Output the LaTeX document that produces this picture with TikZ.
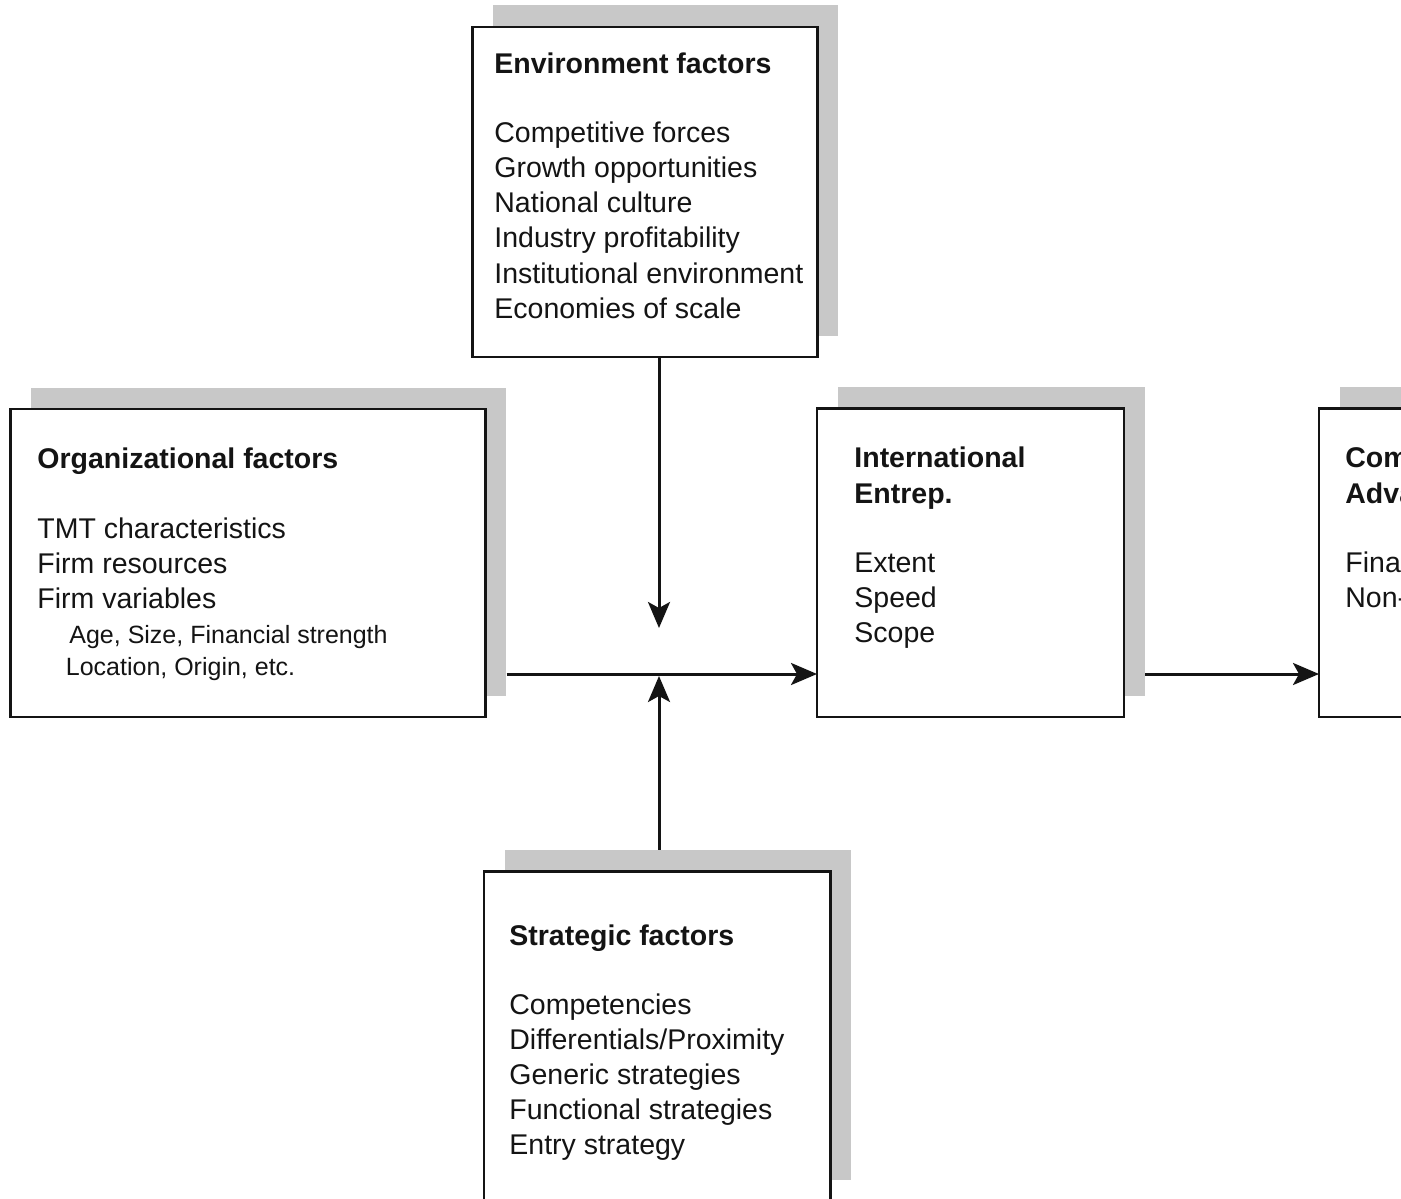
\documentclass[tikz,border=0pt]{standalone}
\usepackage{fontspec}
\setmainfont{Liberation Sans}
\usetikzlibrary{arrows.meta,shadows}
\definecolor{shadegray}{RGB}{200,200,200}
\definecolor{ink}{RGB}{20,20,20}
\tikzset{
  box/.style={draw=ink, line width=1.1pt, fill=white, inner sep=0pt, outer sep=0pt,
    anchor=north west,
    general shadow={fill=shadegray, shadow xshift=10.25pt, shadow yshift=10.75pt}},
  title/.style={anchor=base west, inner sep=0pt, text=ink,
    font=\bfseries\fontsize{14.25}{17.5}\selectfont},
  body/.style={anchor=base west, inner sep=0pt, text=ink,
    font=\fontsize{14.25}{17.5}\selectfont},
  small/.style={anchor=base west, inner sep=0pt, text=ink,
    font=\fontsize{12.5}{15.5}\selectfont},
  conn/.style={draw=ink, line width=1.5pt,
    -{Stealth[length=13pt, width=11pt, inset=3pt]}},
}
\begin{document}
\begin{tikzpicture}[x=0.5pt, y=-0.5pt]
  \useasboundingbox (0,0) rectangle (1401,1198);
  \fill[white] (0,0) rectangle (1401,1198);
  \clip (0,0) rectangle (1401,1198);

  % boxes
  \node[box, minimum width=172.5pt, minimum height=165pt] (env) at (472.5,27) {};
  \node[box, minimum width=237.5pt, minimum height=154pt] (org) at (10.5,409) {};
  \node[box, minimum width=153.5pt, minimum height=154.25pt] (ie) at (817,408.5) {};
  \node[box, minimum width=153.5pt, minimum height=154.25pt] (comp) at (1319,408.5) {};
  \node[box, minimum width=173.25pt, minimum height=165pt] (strat) at (484,871.5) {};

  % environment factors
  \node[title] (env-t) at (494,74) {Environment factors};
  \foreach \t [count=\i] in {Competitive forces, Growth opportunities, National culture,
      Industry profitability, Institutional environment, Economies of scale}
    \node[body] (env-\i) at (494,{143+35*(\i-1)}) {\t};

  % organizational factors
  \node[title] (org-t) at (37,468) {Organizational factors};
  \foreach \t [count=\i] in {TMT characteristics, Firm resources, Firm variables}
    \node[body] (org-\i) at (37,{538+35*(\i-1)}) {\t};
  \node[small] (org-4) at (69,643) {Age, Size, Financial strength};
  \node[small] (org-5) at (65.5,675) {Location, Origin, etc.};

  % international entrepreneurship
  \node[title] (ie-t1) at (854,467) {International};
  \node[title] (ie-t2) at (854,503) {Entrep.};
  \foreach \t [count=\i] in {Extent, Speed, Scope}
    \node[body] (ie-\i) at (854,{572+35*(\i-1)}) {\t};

  % competitive advantage (runs past the right edge)
  \node[title] (comp-t1) at (1345,467) {Competitive};
  \node[title] (comp-t2) at (1345,503) {Advantage};
  \node[body] (comp-1) at (1345,572) {Financial};
  \node[body] (comp-2) at (1345,607) {Non-financial};

  % strategic factors
  \node[title] (strat-t) at (509,945) {Strategic factors};
  \foreach \t [count=\i] in {Competencies, Differentials/Proximity, Generic strategies,
      Functional strategies, Entry strategy}
    \node[body] (strat-\i) at (509,{1014+35*(\i-1)}) {\t};

  % connectors
  \coordinate (j) at (659,674);
  \draw[conn, shorten >=23pt] (env.south -| j) -- (j);
  \draw[conn, shorten <=11pt, shorten >=1pt] (strat.north -| j) -- (j);
  \draw[conn, shorten <=10.5pt] (org.east |- j) -- (ie.west |- j);
  \draw[conn, shorten <=10.5pt] (ie.east |- j) -- (comp.west |- j);
\end{tikzpicture}
\end{document}
